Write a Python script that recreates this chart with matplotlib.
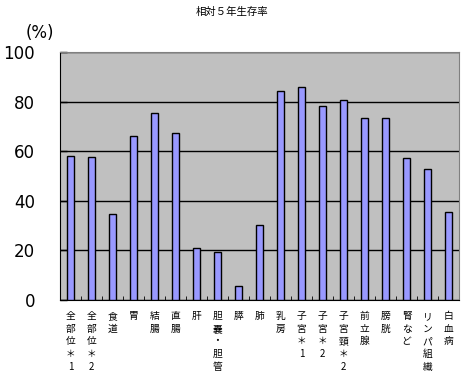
import matplotlib
matplotlib.use('Agg')
import matplotlib.pyplot as plt
import numpy as np

plt.rcParams['font.family'] = ['Noto Sans CJK JP', 'DejaVu Sans']

# 部位と相対5年生存率(%)
sites = ['全部位＊1', '全部位＊2', '食道', '胃', '結腸', '直腸', '肝', '胆嚢・胆管',
         '膵', '肺', '乳房', '子宮＊1', '子宮＊2', '子宮頸＊2', '前立腺', '膀胱',
         '腎など', 'リンパ組織', '白血病']
rates = [57.9, 57.5, 34.5, 66.0, 75.3, 67.2, 20.8, 19.2,
         5.8, 30.1, 84.2, 85.8, 78.1, 80.6, 73.3, 73.3,
         57.1, 52.7, 35.3]
yticks = [0, 20, 40, 60, 80, 100]

fig = plt.figure(figsize=(4.65, 3.8), dpi=100)
ax = fig.add_axes([60 / 465, 1 - 300 / 380, 399 / 465, 248 / 380])
ax.set_facecolor('#C0C0C0')

x = np.arange(len(sites))
ax.bar(x, rates, width=0.35, color='#9999FF', edgecolor='black', linewidth=1, zorder=3)

ax.set_xlim(-0.5, len(sites) - 0.5)
ax.set_ylim(0, 100)
ax.set_yticks(yticks)
ax.set_yticklabels([str(v) for v in yticks], fontsize=12, family='DejaVu Sans')
ax.tick_params(axis='y', direction='in', length=5, width=1, color='black', pad=18)
ax.yaxis.grid(True, color='black', linewidth=1, zorder=1)

# 区切りの目盛り(内向き)
ax.set_xticks(np.arange(len(sites) + 1) - 0.5, minor=True)
ax.tick_params(axis='x', which='minor', direction='in', length=3, color='black')
ax.set_xticks(x)
ax.set_xticklabels(['\n'.join(s) for s in sites], fontsize=7, linespacing=1.33, va='top')
ax.tick_params(axis='x', which='major', length=0, pad=8)

for side in ['top', 'right']:
    ax.spines[side].set_color('#808080')
for side in ['left', 'bottom']:
    ax.spines[side].set_color('black')

fig.text(232 / 465, 1 - 12 / 380, '相対５年生存率', ha='center', va='center', fontsize=7.5)
fig.text(40 / 465, 1 - 33 / 380, '(%)', ha='center', va='center', fontsize=12, family='DejaVu Sans')

fig.savefig('out.png', dpi=100, facecolor='white')
